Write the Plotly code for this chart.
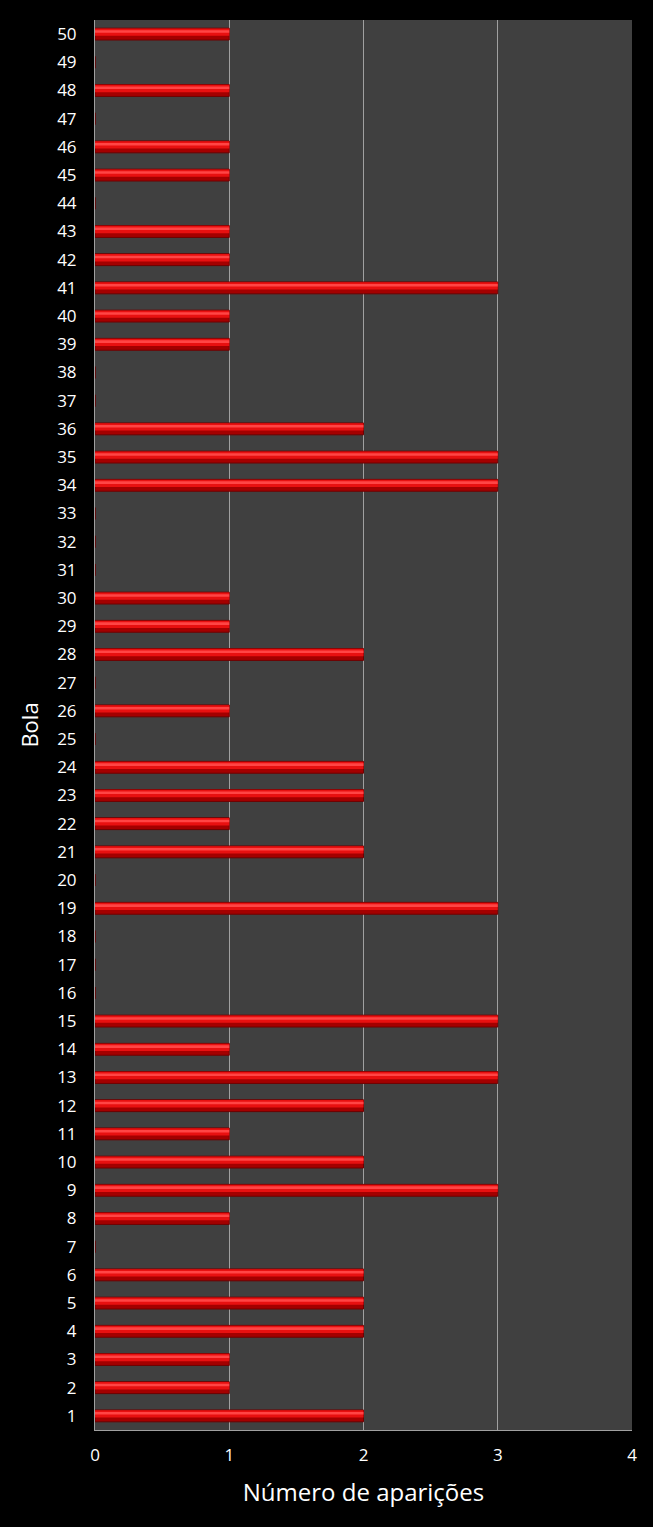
import plotly.graph_objects as go

bolas = list(range(1, 51))
aparicoes = [
    2, 1, 1, 2, 2, 2, 0, 1, 3, 2,
    1, 2, 3, 1, 3, 0, 0, 0, 3, 0,
    2, 1, 2, 2, 0, 1, 0, 2, 1, 1,
    0, 0, 0, 3, 3, 2, 0, 0, 1, 1,
    3, 1, 1, 0, 1, 1, 0, 1, 0, 1,
]
x_ticks = [0, 1, 2, 3, 4]

fig = go.Figure()

# dark body of each bar (gives the shaded lower half)
fig.add_trace(
    go.Bar(
        x=aparicoes,
        y=bolas,
        orientation="h",
        width=0.42,
        offset=-0.21,
        marker=dict(color="#a30000", line=dict(color="#6e0000", width=1)),
        hoverinfo="x+y",
    )
)
# bright upper part
fig.add_trace(
    go.Bar(
        x=aparicoes,
        y=bolas,
        orientation="h",
        width=0.26,
        offset=-0.06,
        marker=dict(color="#e81010", line=dict(width=0)),
        hoverinfo="skip",
    )
)
# glossy highlight
fig.add_trace(
    go.Bar(
        x=aparicoes,
        y=bolas,
        orientation="h",
        width=0.09,
        offset=0.05,
        marker=dict(color="#ff4545", line=dict(width=0)),
        hoverinfo="skip",
    )
)

fig.update_layout(
    width=653,
    height=1527,
    margin=dict(l=95, r=21, t=20, b=97),
    paper_bgcolor="black",
    plot_bgcolor="#404040",
    barmode="overlay",
    showlegend=False,
    font=dict(family="Open Sans", color="white", size=17),
)

fig.update_xaxes(
    range=[0, 4],
    tickvals=x_ticks,
    showgrid=True,
    gridcolor="#a0a0a0",
    gridwidth=1,
    zeroline=False,
    showline=True,
    linecolor="#a0a0a0",
    mirror=False,
    ticks="",
    ticklabelstandoff=10,
    tickfont=dict(size=17, color="white"),
    title=dict(text="Número de aparições", font=dict(size=24, color="white"), standoff=18),
)
fig.update_yaxes(
    range=[0.5, 50.5],
    tickvals=bolas,
    showgrid=False,
    zeroline=False,
    showline=True,
    linecolor="#a0a0a0",
    ticks="",
    ticklabelstandoff=14,
    tickfont=dict(size=17, color="white"),
    title=dict(text="Bola", font=dict(size=22, color="white"), standoff=12),
)

# page itself black and without the default body margin
fig.write_html(
    "out.html",
    config={"displayModeBar": False},
    post_script="document.body.style.margin='0';document.body.style.background='black';",
)
